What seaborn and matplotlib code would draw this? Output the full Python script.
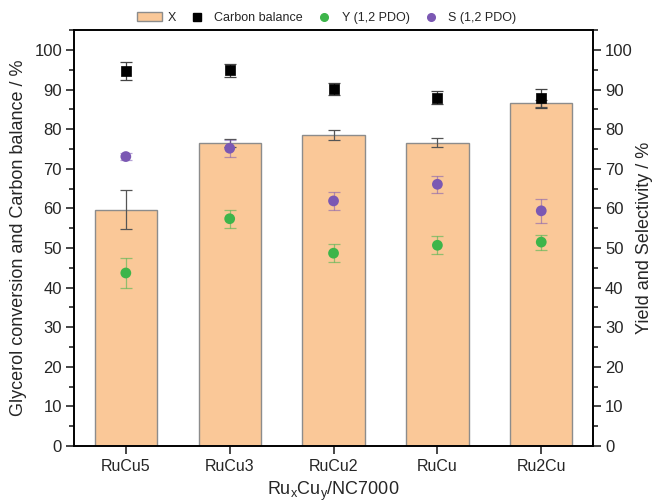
import numpy as np
import pandas as pd
import matplotlib
matplotlib.use("Agg")
import matplotlib.pyplot as plt
from matplotlib.patches import Patch
from matplotlib.lines import Line2D
from matplotlib.ticker import MultipleLocator
import seaborn as sns

categories = ["RuCu5", "RuCu3", "RuCu2", "RuCu", "Ru2Cu"]
conversion = [59.7, 76.5, 78.5, 76.6, 86.6]
conversion_err = [5.0, 1.1, 1.2, 1.1, 0.9]
carbon_balance = [94.7, 94.9, 90.1, 88.0, 87.8]
carbon_balance_err = [2.3, 1.6, 1.5, 1.6, 2.4]
yield_pdo = [43.7, 57.4, 48.7, 50.7, 51.5]
yield_pdo_err = [3.7, 2.3, 2.3, 2.3, 1.9]
sel_pdo = [73.1, 75.2, 61.9, 66.1, 59.4]
sel_pdo_err = [0.8, 2.2, 2.2, 2.2, 3.1]

sns.set_theme(style="ticks")
plt.rcParams["font.family"] = ["Liberation Sans", "DejaVu Sans"]

bar_color = "#FAC898"
green = "#3DB54A"
purple = "#7B58B3"

df = pd.DataFrame({"cat": categories, "X": conversion})

fig = plt.figure(figsize=(6.54, 5.04), dpi=100)
ax = fig.add_axes([0.113, 0.115, 0.794, 0.825])

sns.barplot(data=df, x="cat", y="X", ax=ax, color=bar_color, width=0.6,
            edgecolor="#8c8c8c", linewidth=1.0, saturation=1, errorbar=None)
pos = np.arange(len(categories))
ax.errorbar(pos, conversion, yerr=conversion_err, fmt="none", ecolor="#555555",
            elinewidth=0.9, capsize=4, capthick=0.9, zorder=3)

ax.errorbar(pos, carbon_balance, yerr=carbon_balance_err, fmt="none", ecolor="#444444",
            elinewidth=0.9, capsize=4, capthick=0.9, zorder=4)
sns.scatterplot(x=pos, y=carbon_balance, ax=ax, marker="s", color="black",
                s=55, edgecolor="black", linewidth=0.5, zorder=5, legend=False)

ax2 = ax.twinx()
ax2.errorbar(pos, yield_pdo, yerr=yield_pdo_err, fmt="none", ecolor=green, alpha=0.55,
             elinewidth=0.9, capsize=4, capthick=0.9, zorder=4)
ax2.errorbar(pos, sel_pdo, yerr=sel_pdo_err, fmt="none", ecolor=purple, alpha=0.55,
             elinewidth=0.9, capsize=4, capthick=0.9, zorder=4)
sns.scatterplot(x=pos, y=yield_pdo, ax=ax2, marker="o", color=green, s=60,
                edgecolor="none", zorder=5, legend=False)
sns.scatterplot(x=pos, y=sel_pdo, ax=ax2, marker="o", color=purple, s=60,
                edgecolor="none", zorder=5, legend=False)

for a in (ax, ax2):
    a.set_ylim(0, 105)
    a.yaxis.set_major_locator(MultipleLocator(10))
    a.yaxis.set_minor_locator(MultipleLocator(5))
    a.tick_params(axis="y", which="major", length=6, width=1.2, labelsize=12,
                  direction="out", pad=2.5)
    a.tick_params(axis="y", which="minor", length=3.5, width=1.2, direction="out")
    for sp in a.spines.values():
        sp.set_linewidth(1.2)
        sp.set_color("black")
ax.set_xlim(-0.5, 4.5)
ax.tick_params(axis="x", which="major", length=6, width=1.2, labelsize=11.5, direction="out")
ax.set_ylabel("Glycerol conversion and Carbon balance / %", fontsize=13, labelpad=5)
ax2.set_ylabel("Yield and Selectivity / %", fontsize=13, labelpad=2)
ax.set_xlabel(r"Ru$_\mathregular{x}$Cu$_\mathregular{y}$/NC7000", fontsize=13, labelpad=4)
ax2.yaxis.set_label_position("right")

handles = [
    Patch(facecolor=bar_color, edgecolor="#8c8c8c", label="X"),
    Line2D([], [], marker="s", color="black", linestyle="none", markersize=5.5, label="Carbon balance"),
    Line2D([], [], marker="o", color=green, linestyle="none", markersize=5.5, label="Y (1,2 PDO)"),
    Line2D([], [], marker="o", color=purple, linestyle="none", markersize=5.5, label="S (1,2 PDO)"),
]
fig.legend(handles=handles, loc="center", bbox_to_anchor=(0.5, 0.964), ncol=4,
           frameon=False, fontsize=9, handlelength=2.0, handletextpad=0.4,
           columnspacing=0.7)

fig.savefig("out.png", dpi=100)
